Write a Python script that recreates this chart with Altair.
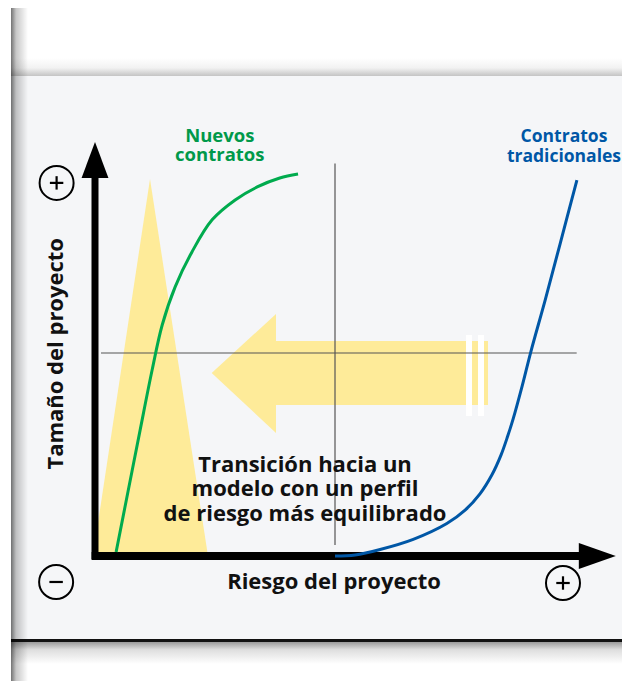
import altair as alt
import pandas as pd

# Conceptual coordinates: risk (x) and project size (y); the crosshair sits at 50 / 50,
# the axis arrows start at 0 / 0.
GREEN_RISK = [4.4, 6.9, 9.4, 11.9, 14.0, 16.7, 20.2, 24.4, 29.2, 33.8, 38.5, 42.3]
GREEN_SIZE = [1.0, 16.0, 31.0, 45.8, 56.9, 66.3, 74.9, 82.8, 87.7, 90.9, 93.1, 94.1]

BLUE_RISK = [50.0, 54.2, 59.4, 66.3, 73.3, 77.1, 80.2, 82.7, 84.6, 86.0, 87.1, 89.0, 90.8, 93.8, 96.9, 100.4]
BLUE_SIZE = [0.0, 0.25, 1.6, 4.1, 8.0, 11.3, 15.3, 20.0, 24.9, 29.6, 33.7, 41.9, 50.3, 63.1, 76.9, 92.6]

# yellow triangle (risk profile of new contracts)
TRI_RISK = [-0.42, 11.46, 23.54]
TRI_SIZE = [0.0, 92.86, 0.0]

# big yellow arrow pointing left (transition)
ARROW_HEAD_RISK = [24.31, 37.71]
ARROW_HEAD_TOP = [45.07, 59.61]
ARROW_HEAD_BOTTOM = [45.07, 30.30]
ARROW_SHAFT = {"r": [37.5], "r2": [81.875], "s": [37.19], "s2": [52.96]}
STRIPES = {"r": [77.29, 79.79], "r2": [78.54, 81.04], "s": [34.48, 34.48], "s2": [54.43, 54.43]}

# axis arrows
YHEAD_RISK = [-2.8, 0.0, 2.8]
YHEAD_SIZE = [93.1, 102.0, 93.1]
XHEAD_SIZE = [-3.2, 0.0, 3.2]
XHEAD_RISK = [100.8, 108.5, 100.8]

# circled signs
SIGN_RISK = [-8.0, -8.1, 97.5]
SIGN_SIZE = [91.9, -6.4, -6.65]
SIGN_PLUS = [True, False, True]

GREEN_LABEL = ["Nuevos", "contratos"]
BLUE_LABEL = ["Contratos", "tradicionales"]
CENTER_LABEL = ["Transición hacia un", "modelo con un perfil", "de riesgo más equilibrado"]
X_TITLE = "Riesgo del proyecto"
Y_TITLE = "Tamaño del proyecto"

W, H = 614, 673
xs = alt.Scale(domain=[-18.125, 109.792], nice=False, zero=False)
ys = alt.Scale(domain=[-30.788, 134.975], nice=False, zero=False)
FONT = "Open Sans"
YELLOW = "#feeb99"
GREEN = "#00ab4e"
BLUE = "#0057a6"


def X(f="r"):
    return alt.X(f"{f}:Q", scale=xs, axis=None)


def Y(f="s"):
    return alt.Y(f"{f}:Q", scale=ys, axis=None)


one = pd.DataFrame({"k": [0]})


def deco_rect(x, x2, y, y2, color):
    return alt.Chart(one).mark_rect(color=color).encode(
        x=alt.value(x), x2=alt.value(x2), y=alt.value(y), y2=alt.value(y2))


def grad(stops, horizontal):
    return alt.LinearGradient(
        gradient="linear",
        stops=[alt.GradientStop(color=c, offset=o) for o, c in stops],
        x1=0, x2=1 if horizontal else 0, y1=0, y2=0 if horizontal else 1)


# --- page decorations (panel, shadows, bottom rule) ---
panel = deco_rect(3, W, 68, 632, "#f5f6f8")
top_shadow = deco_rect(3, W, 50, 68, grad([(0, "#ffffff"), (0.55, "#f2f2f2"), (1, "#c4c4c4")], False))
bottom_line = deco_rect(3, W, 631, 634, "#111111")
bottom_shadow = deco_rect(3, W, 634, 656, grad([(0, "#9a9a9a"), (0.35, "#dedede"), (1, "#ffffff")], False))
left_shadow = deco_rect(3, 20, 0, H, grad([(0, "rgba(0,0,0,0.55)"), (0.3, "rgba(0,0,0,0.22)"),
                                            (1, "rgba(0,0,0,0)")], True))

# --- yellow shapes ---
tri = alt.Chart(pd.DataFrame({"r": TRI_RISK, "s": TRI_SIZE, "s2": [0.0] * 3})).mark_area(
    color=YELLOW, opacity=1).encode(x=X(), y=Y(), y2="s2:Q")
head = alt.Chart(pd.DataFrame({"r": ARROW_HEAD_RISK, "s": ARROW_HEAD_TOP, "s2": ARROW_HEAD_BOTTOM})).mark_area(
    color=YELLOW, opacity=1).encode(x=X(), y=Y(), y2="s2:Q")
shaft = alt.Chart(pd.DataFrame(ARROW_SHAFT)).mark_rect(color=YELLOW).encode(
    x=X(), x2="r2:Q", y=Y(), y2="s2:Q")
stripes = alt.Chart(pd.DataFrame(STRIPES)).mark_rect(color="#ffffff").encode(
    x=X(), x2="r2:Q", y=Y(), y2="s2:Q")

# --- crosshair ---
vline = alt.Chart(pd.DataFrame({"r": [50.0], "s": [2.7], "s2": [96.7]})).mark_rule(
    color="#555555", strokeWidth=1.2).encode(x=X(), y=Y(), y2="s2:Q")
hline = alt.Chart(pd.DataFrame({"r": [1.25], "r2": [100.35], "s": [50.0]})).mark_rule(
    color="#555555", strokeWidth=1.2).encode(x=X(), x2="r2:Q", y=Y())

# --- curves ---
green = alt.Chart(pd.DataFrame({"r": GREEN_RISK, "s": GREEN_SIZE})).mark_line(
    color=GREEN, strokeWidth=3, interpolate="catmull-rom").encode(x=X(), y=Y())
blue = alt.Chart(pd.DataFrame({"r": BLUE_RISK, "s": BLUE_SIZE})).mark_line(
    color=BLUE, strokeWidth=3, interpolate="catmull-rom").encode(x=X(), y=Y())

# --- axes arrows ---
yshaft = alt.Chart(pd.DataFrame({"r": [0.0], "s": [-0.8], "s2": [93.5]})).mark_rule(
    color="#000000", strokeWidth=7).encode(x=X(), y=Y(), y2="s2:Q")
xshaft = alt.Chart(pd.DataFrame({"r": [-0.7], "r2": [101.2], "s": [0.0]})).mark_rule(
    color="#000000", strokeWidth=8).encode(x=X(), x2="r2:Q", y=Y())
yhead = alt.Chart(pd.DataFrame({"r": YHEAD_RISK, "s": YHEAD_SIZE, "s2": [93.1] * 3})).mark_area(
    color="#000000", opacity=1).encode(x=X(), y=Y(), y2="s2:Q")
xhead = alt.Chart(pd.DataFrame({"s": XHEAD_SIZE, "r": XHEAD_RISK, "r2": [100.8] * 3})).mark_area(
    color="#000000", opacity=1, orient="horizontal").encode(y=Y(), x=X(), x2="r2:Q")

# --- circled signs ---
signs = pd.DataFrame({"r": SIGN_RISK, "s": SIGN_SIZE, "plus": SIGN_PLUS})
signs["rl"] = signs["r"] - 1.4
signs["rr"] = signs["r"] + 1.4
signs["sb"] = signs["s"] - 1.65
signs["st"] = signs["s"] + 1.65
circles = alt.Chart(signs).mark_point(shape="circle", size=1156, filled=False, stroke="#000000",
                                      strokeWidth=2, opacity=1).encode(x=X(), y=Y())
hbars = alt.Chart(signs).mark_rule(color="#000000", strokeWidth=2.2).encode(x=X("rl"), x2="rr:Q", y=Y())
vbars = alt.Chart(signs[signs["plus"]]).mark_rule(color="#000000", strokeWidth=2.2).encode(
    x=X(), y=Y("sb"), y2="st:Q")


# --- texts (multi-line labels are single text items) ---
def text_layer(lines, r, s, color, size, line_height=None, **kw):
    df = pd.DataFrame({"t": ["\n".join(lines)], "r": [r], "s": [s]})
    extra = dict(kw)
    if line_height is not None:
        extra["lineHeight"] = line_height
    return alt.Chart(df).mark_text(font=FONT, fontWeight="bold", fontSize=size, color=color,
                                   align="center", baseline="alphabetic", lineBreak="\n",
                                   **extra).encode(x=X(), y=Y(), text="t:N")


green_txt = text_layer(GREEN_LABEL, 26.0, 102.05, "#00994a", 18.5, line_height=19.5)
blue_txt = text_layer(BLUE_LABEL, 97.7, 101.95, BLUE, 17.5, line_height=20)
center_txt = text_layer(CENTER_LABEL, 43.75, 20.7, "#111111", 22, line_height=24.5)
x_title = text_layer([X_TITLE], 49.8, -8.1, "#111111", 22)
y_title = text_layer([Y_TITLE], -6.6, 49.8, "#111111", 22, angle=270)

chart = alt.layer(
    panel, top_shadow, bottom_shadow, bottom_line, left_shadow,
    tri, shaft, head, stripes,
    vline, hline,
    center_txt, green_txt, blue_txt, x_title, y_title,
    yshaft, xshaft, yhead, xhead,
    green, blue,
    circles, hbars, vbars,
).properties(
    width=W, height=H, padding=0, background="#ffffff",
    autosize=alt.AutoSizeParams(type="none"),
).configure_view(stroke=None)

chart.save("out.html", embed_options={"renderer": "svg", "actions": False})
